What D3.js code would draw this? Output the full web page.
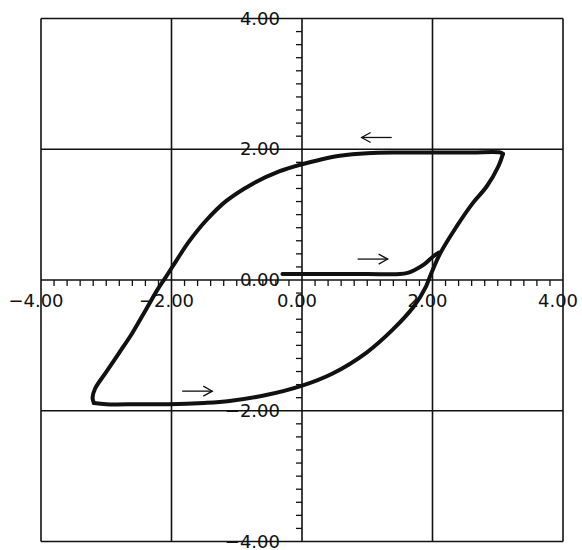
<!DOCTYPE html>
<html>
<head>
<meta charset="utf-8">
<script src="https://cdn.jsdelivr.net/npm/d3@7"></script>
<style>
  body { margin: 0; background: #fff; }
  svg { display: block; }
  .lbl { font-family: "DejaVu Sans", sans-serif; font-size: 18px; fill: #111; }
</style>
</head>
<body>
<div id="chart"></div>
<script>
// grid / tick values
const gridValues = [-4, -2, 0, 2, 4];
const xTickLabels = ["\u22124.00", "\u22122.00", "0.00", "2.00", "4.00"];
const yTickLabels = ["\u22124.00", "\u22122.00", "0.00", "2.00", "4.00"];

// hysteresis loop
const initialCurve = [
  [-0.30, 0.09], [0.30, 0.09], [1.00, 0.09], [1.50, 0.09], [1.62, 0.11],
  [1.72, 0.15], [1.86, 0.23], [2.01, 0.36], [2.10, 0.42]
];
const descendingBranch = [
  [3.08, 1.93], [3.04, 1.95], [2.60, 1.95], [2.00, 1.95], [1.50, 1.95], [1.00, 1.94],
  [0.58, 1.90], [0.28, 1.84], [0.00, 1.77], [-0.35, 1.66], [-0.76, 1.47],
  [-1.16, 1.21], [-1.47, 0.91], [-1.73, 0.59], [-1.93, 0.29], [-2.09, 0.04],
  [-2.21, -0.14], [-2.39, -0.45], [-2.60, -0.81], [-2.80, -1.11],
  [-3.01, -1.42], [-3.17, -1.66], [-3.21, -1.80], [-3.19, -1.88]
];
const ascendingBranch = [
  [-3.19, -1.88], [-3.00, -1.90], [-2.50, -1.90], [-2.04, -1.90], [-1.50, -1.88],
  [-1.11, -1.85], [-0.55, -1.76], [-0.01, -1.62], [0.47, -1.43], [0.99, -1.11],
  [1.39, -0.76], [1.71, -0.41], [1.90, -0.10], [1.96, 0.05], [2.12, 0.41],
  [2.37, 0.82], [2.62, 1.18], [2.83, 1.43], [3.01, 1.74], [3.08, 1.93]
];

// direction arrows: [from x, to x, y]
const arrows = [
  [1.375, 0.914, 2.18],
  [0.853, 1.313, 0.32],
  [-1.836, -1.375, -1.70]
];

const width = 582, height = 550;

const svg = d3.select("#chart").append("svg")
  .attr("width", width)
  .attr("height", height);

const x = d3.scaleLinear().domain([-4, 4]).range([41, 563]);
const y = d3.scaleLinear().domain([-4, 4]).range([541.5, 18.5]);

// grid lines (incl. border)
svg.append("g").selectAll("line.v")
  .data(gridValues)
  .enter().append("line")
  .attr("x1", d => x(d)).attr("x2", d => x(d))
  .attr("y1", y(-4)).attr("y2", y(4))
  .attr("stroke", "#111").attr("stroke-width", 1.6);

svg.append("g").selectAll("line.h")
  .data(gridValues)
  .enter().append("line")
  .attr("y1", d => y(d)).attr("y2", d => y(d))
  .attr("x1", x(-4)).attr("x2", x(4))
  .attr("stroke", "#111").attr("stroke-width", 1.6);

// minor ticks every 0.2 on the central axes
const minor = d3.range(-40, 41, 2).map(d => d / 10).filter(d => Math.abs(d) % 2 !== 0);

svg.append("g").selectAll("line")
  .data(minor)
  .enter().append("line")
  .attr("x1", d => x(d)).attr("x2", d => x(d))
  .attr("y1", y(0)).attr("y2", y(0) + 6)
  .attr("stroke", "#111").attr("stroke-width", 1.3);

svg.append("g").selectAll("line")
  .data(minor)
  .enter().append("line")
  .attr("y1", d => y(d)).attr("y2", d => y(d))
  .attr("x1", x(0)).attr("x2", x(0) - 6)
  .attr("stroke", "#111").attr("stroke-width", 1.3);

// tick labels
svg.append("g").selectAll("text")
  .data(gridValues)
  .enter().append("text")
  .attr("class", "lbl")
  .attr("x", d => x(d) - 5)
  .attr("y", y(0) + 22)
  .attr("text-anchor", "middle")
  .attr("dominant-baseline", "middle")
  .text((d, i) => xTickLabels[i]);

svg.append("g").selectAll("text")
  .data(gridValues)
  .enter().append("text")
  .attr("class", "lbl")
  .attr("x", x(0) - 22)
  .attr("y", d => y(d) + 1)
  .attr("text-anchor", "end")
  .attr("dominant-baseline", "middle")
  .text((d, i) => yTickLabels[i]);

// loop
const line = d3.line()
  .x(d => x(d[0]))
  .y(d => y(d[1]))
  .curve(d3.curveCatmullRom.alpha(0.5));

[initialCurve, descendingBranch, ascendingBranch].forEach(branch => {
  svg.append("path")
    .datum(branch)
    .attr("fill", "none")
    .attr("stroke", "#111")
    .attr("stroke-width", 4)
    .attr("stroke-linecap", "round")
    .attr("stroke-linejoin", "round")
    .attr("d", line);
});

// arrows
arrows.forEach(a => {
  const x1 = x(a[0]), x2 = x(a[1]), yy = y(a[2]);
  const dir = x2 > x1 ? 1 : -1;
  svg.append("line")
    .attr("x1", x1).attr("x2", x2)
    .attr("y1", yy).attr("y2", yy)
    .attr("stroke", "#111").attr("stroke-width", 1.3);
  svg.append("path")
    .attr("d", `M${x2 - dir * 9},${yy - 5}L${x2},${yy}L${x2 - dir * 9},${yy + 5}`)
    .attr("fill", "none")
    .attr("stroke", "#111").attr("stroke-width", 1.3);
});
</script>
</body>
</html>
